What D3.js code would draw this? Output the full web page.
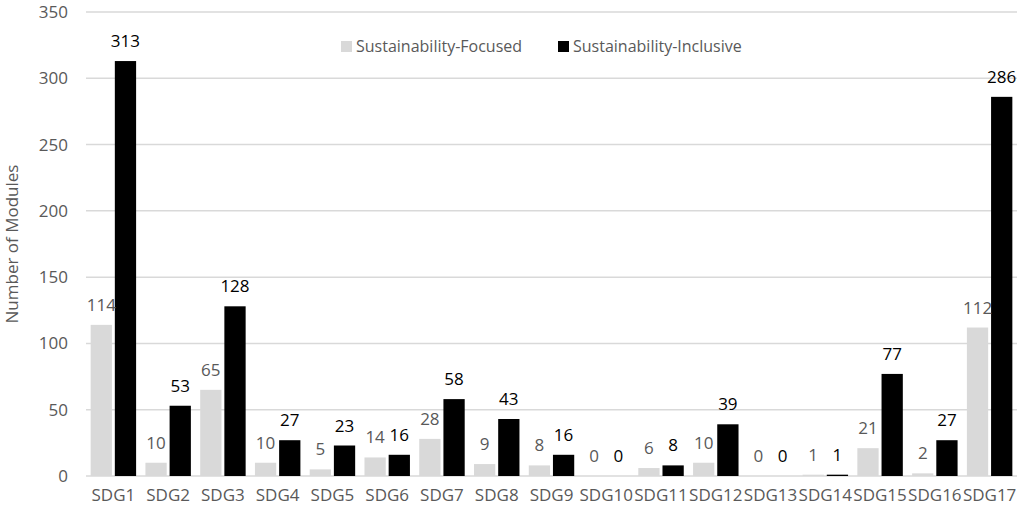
<!DOCTYPE html>
<html>
<head>
<meta charset="utf-8">
<script src="https://cdn.jsdelivr.net/npm/d3@7"></script>
<style>
  body { margin: 0; background: #fff; }
  text { font-family: "Open Sans", sans-serif; }
</style>
</head>
<body>
<div id="chart"></div>
<script>
// Data
var categories = ["SDG1","SDG2","SDG3","SDG4","SDG5","SDG6","SDG7","SDG8","SDG9","SDG10","SDG11","SDG12","SDG13","SDG14","SDG15","SDG16","SDG17"];
var seriesNames = ["Sustainability-Focused", "Sustainability-Inclusive"];
var focused   = [114, 10, 65, 10, 5, 14, 28, 9, 8, 0, 6, 10, 0, 1, 21, 2, 112];
var inclusive = [313, 53, 128, 27, 23, 16, 58, 43, 16, 0, 8, 39, 0, 1, 77, 27, 286];
var yTicks = [0, 50, 100, 150, 200, 250, 300, 350];

var drawChart = function() {

    // Size & style
    const width = 1021, height = 511;
    const margin = {top: 12, right: 4, bottom: 35, left: 86};
    const innerWidth = width - margin.left - margin.right;
    const innerHeight = height - margin.top - margin.bottom;
    var barColors = ["#d9d9d9", "#000000"];
    var labelColors = ["#595959", "#000000"];
    var axisText = "#595959";
    var fontSize = 17;

    var svg = d3.select("#chart").append("svg")
        .attr("width", width)
        .attr("height", height);

    var g = svg.append("g")
        .attr("transform", "translate(" + margin.left + "," + margin.top + ")");

    var x0 = d3.scaleBand()
        .domain(categories)
        .range([0, innerWidth])
        .paddingInner(0.17)
        .paddingOuter(0.085);

    var x1 = d3.scaleBand()
        .domain(seriesNames)
        .range([0, x0.bandwidth()])
        .paddingInner(0.12);

    var y = d3.scaleLinear()
        .domain([0, 350])
        .range([innerHeight, 0]);

    // Gridlines
    g.append("g")
        .selectAll("line")
        .data(yTicks)
        .enter().append("line")
        .attr("x1", 0)
        .attr("x2", innerWidth)
        .attr("y1", function(d) { return y(d); })
        .attr("y2", function(d) { return y(d); })
        .attr("stroke", "#d9d9d9")
        .attr("stroke-width", 1.5);

    // Y axis labels
    var yAxis = g.append("g")
        .call(d3.axisLeft(y).tickValues(yTicks).tickSize(0).tickPadding(18));
    yAxis.select(".domain").remove();
    yAxis.selectAll("text")
        .attr("fill", axisText)
        .style("font-size", fontSize + "px")
        .style("font-family", "'Open Sans', sans-serif");

    // X axis labels
    var xAxis = g.append("g")
        .attr("transform", "translate(0," + innerHeight + ")")
        .call(d3.axisBottom(x0).tickSize(0).tickPadding(13));
    xAxis.select(".domain").remove();
    xAxis.selectAll("text")
        .attr("fill", axisText)
        .style("font-size", fontSize + "px")
        .style("font-family", "'Open Sans', sans-serif");

    // Bars
    var rows = categories.map(function(c, i) {
        return {cat: c, vals: [focused[i], inclusive[i]]};
    });

    var groups = g.append("g")
        .selectAll("g")
        .data(rows)
        .enter().append("g")
        .attr("transform", function(d) { return "translate(" + x0(d.cat) + ",0)"; });

    groups.selectAll("rect")
        .data(function(d) { return d.vals.map(function(v, k) { return {k: k, v: v}; }); })
        .enter().append("rect")
        .attr("x", function(d) { return x1(seriesNames[d.k]); })
        .attr("y", function(d) { return y(d.v); })
        .attr("width", x1.bandwidth())
        .attr("height", function(d) { return y(0) - y(d.v); })
        .attr("fill", function(d) { return barColors[d.k]; });

    // Value labels
    groups.selectAll("text.val")
        .data(function(d) { return d.vals.map(function(v, k) { return {k: k, v: v}; }); })
        .enter().append("text")
        .attr("class", "val")
        .attr("x", function(d) { return x1(seriesNames[d.k]) + x1.bandwidth() / 2; })
        .attr("y", function(d) { return y(d.v) - 14; })
        .attr("text-anchor", "middle")
        .attr("fill", function(d) { return labelColors[d.k]; })
        .style("font-size", fontSize + "px")
        .text(function(d) { return d.v; });

    // Y axis title
    svg.append("text")
        .attr("transform", "translate(18," + (margin.top + innerHeight / 2) + ") rotate(-90)")
        .attr("text-anchor", "middle")
        .attr("fill", axisText)
        .style("font-size", fontSize + "px")
        .text("Number of Modules");

    // Legend
    var legendX = [341, 558];
    var legend = svg.append("g")
        .selectAll("g")
        .data(seriesNames)
        .enter().append("g")
        .attr("transform", function(d, i) { return "translate(" + legendX[i] + ",41)"; });
    legend.append("rect")
        .attr("width", 11)
        .attr("height", 11)
        .attr("fill", function(d, i) { return barColors[i]; });
    legend.append("text")
        .attr("x", 15)
        .attr("y", 11)
        .attr("fill", axisText)
        .style("font-size", "16px")
        .text(function(d) { return d; });
};

window.addEventListener("load", drawChart);
</script>
</body>
</html>
